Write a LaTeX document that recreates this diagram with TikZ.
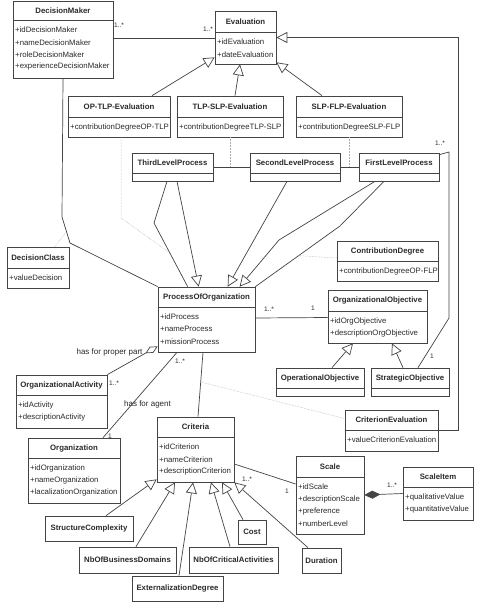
\documentclass[tikz,border=0pt]{standalone}
\usepackage{fontspec}
\setmainfont{Liberation Sans}
\usetikzlibrary{arrows.meta}
\definecolor{lc}{HTML}{444444}
\definecolor{tc}{HTML}{2A2A2A}
\tikzset{
  clsbox/.style={draw=lc, line width=0.7pt, inner sep=0pt, fill=white},
  boxline/.style={draw=lc, line width=0.7pt},
  ttl/.style={inner sep=0pt, text=tc, font=\bfseries\fontsize{7.8}{9}\selectfont},
  attr/.style={inner sep=0pt, anchor=west, text=tc, font=\fontsize{7.8}{9}\selectfont},
  assoc/.style={draw=lc, line width=0.7pt},
  gen/.style={assoc, -{Triangle[open,length=11pt,width=11pt,fill=white]}},
  agg/.style={assoc, -{Diamond[open,length=14pt,width=7pt,fill=white]}},
  comp/.style={assoc, {Diamond[length=16pt,width=8pt]}-},
  dots/.style={draw=gray!65, line width=0.5pt, densely dotted},
  mult/.style={inner sep=0pt, text=tc, font=\fontsize{6.6}{7}\selectfont},
  lbl/.style={inner sep=0pt, text=tc, font=\fontsize{8}{9}\selectfont}
}
% name, x1, y1, x2, y2, separator y, title, attributes
\newcommand\umlcls[8]{%
  \node[clsbox, minimum width={(#4-#2)*1pt}, minimum height={(#5-#3)*1pt}] (#1) at ({(#2+#4)/2},{(#3+#5)/2}) {};
  \draw[boxline] (#2,#6) -- (#4,#6);
  \node[ttl] (#1-t) at ({(#2+#4)/2},{(#3+#6)/2}) {#7};
  \foreach \a [count=\i] in {#8} {\node[attr] (#1-a\i) at ({#2+2},{#6+10+(\i-1)*12.3}) {\a};}
}
% name, x1, y1, x2, y2, separator y, title
\newcommand\umlhead[7]{%
  \node[clsbox, minimum width={(#4-#2)*1pt}, minimum height={(#5-#3)*1pt}] (#1) at ({(#2+#4)/2},{(#3+#5)/2}) {};
  \draw[boxline] (#2,#6) -- (#4,#6);
  \node[ttl] (#1-t) at ({(#2+#4)/2},{(#3+#6)/2}) {#7};
}
% name, x1, y1, x2, y2, title
\newcommand\umlsimple[6]{%
  \node[clsbox, minimum width={(#4-#2)*1pt}, minimum height={(#5-#3)*1pt}] (#1) at ({(#2+#4)/2},{(#3+#5)/2}) {};
  \node[ttl] (#1-t) at ({(#2+#4)/2},{(#3+#5)/2}) {#6};
}
\begin{document}
\begin{tikzpicture}[x=1pt,y=-1pt]
\useasboundingbox (0,0) rectangle (484,610);
\fill[white] (0,0) rectangle (484,610);

% ---------- classes ----------
\umlcls{dm}{13}{1}{113}{78}{20}{DecisionMaker}{+idDecisionMaker,+nameDecisionMaker,+roleDecisionMaker,+experienceDecisionMaker}
\umlcls{ev}{215}{11}{276}{64}{32}{Evaluation}{+idEvaluation,+dateEvaluation}
\umlcls{optlp}{68}{96}{170}{137}{117}{OP-TLP-Evaluation}{+contributionDegreeOP-TLP}
\umlcls{tlpslp}{177}{96}{283}{137}{117}{TLP-SLP-Evaluation}{+contributionDegreeTLP-SLP}
\umlcls{slpflp}{296}{96}{402}{137}{117}{SLP-FLP-Evaluation}{+contributionDegreeSLP-FLP}
\umlhead{third}{132}{153}{213}{181}{173}{ThirdLevelProcess}
\umlhead{second}{250}{153}{340}{181}{173}{SecondLevelProcess}
\umlhead{first}{359}{153}{439}{181}{173}{FirstLevelProcess}
\umlcls{dc}{7}{247}{69}{288}{268}{DecisionClass}{+valueDecision}
\umlcls{cd}{337}{241}{438}{281}{261}{ContributionDegree}{+contributionDegreeOP-FLP}
\umlcls{poo}{158}{287}{255}{352}{307}{ProcessOfOrganization}{+idProcess,+nameProcess,+missionProcess}
\umlcls{oo}{328}{290}{427}{343}{311}{OrganizationalObjective}{+idOrgObjective,+descriptionOrgObjective}
\umlhead{op}{276}{368}{364}{396}{388}{OperationalObjective}
\umlhead{so}{371}{368}{449}{396}{388}{StrategicObjective}
\umlcls{oa}{16}{375}{107}{428}{395}{OrganizationalActivity}{+idActivity,+descriptionActivity}
\umlcls{ce}{345}{410}{438}{451}{430}{CriterionEvaluation}{+valueCriterionEvaluation}
\umlcls{org}{28}{438}{120}{503}{458}{Organization}{+idOrganization,+nameOrganization,+lacalizationOrganization}
\umlcls{crit}{157}{417}{234}{482}{437}{Criteria}{+idCriterion,+nameCriterion,+descriptionCriterion}
\umlcls{scale}{296}{456}{364}{534}{477}{Scale}{+idScale,+descriptionScale,+preference,+numberLevel}
\umlcls{si}{403}{467}{473}{520}{487}{ScaleItem}{+qualitativeValue,+quantitativeValue}
\umlsimple{sc}{45}{516}{133}{541}{StructureComplexity}
\umlsimple{nbd}{79}{547}{176}{573}{NbOfBusinessDomains}
\umlsimple{ext}{132}{576}{223}{601}{ExternalizationDegree}
\umlsimple{nbc}{189}{547}{278}{573}{NbOfCriticalActivities}
\umlsimple{cost}{238}{520}{266}{544}{Cost}
\umlsimple{dur}{302}{548}{341}{573}{Duration}

% ---------- association points for association classes ----------
\coordinate (dmp) at (66,232);
\coordinate (tpa) at (170,253);
\coordinate (fpa) at (298,255.6);
\coordinate (pca) at (200.7,382);

% ---------- connectors ----------
\draw[assoc] ([yshift=1.5pt]dm.east) -- ([yshift=-0.5pt]ev.west);
\draw[assoc] (dm.south) -- (62,217) -- (70,243) -- (poo.north west);
\draw[dots] ([xshift=17pt]dc.north) -- (dmp);

\draw[gen] ([xshift=33pt]optlp.north) -- ([yshift=7pt]ev.south west);
\draw[gen] ([xshift=5pt]tlpslp.north) -- ([xshift=-5.5pt]ev.south);
\draw[gen] ([xshift=-27pt]slpflp.north) -- ([yshift=2pt]ev.south east);

\draw[assoc] (third.east) -- (second.west);
\draw[assoc] (second.east) -- (first.west);
\draw[dots] (tlpslp.south) -- (tlpslp.south |- third.east);
\draw[dots] (slpflp.south) -- (slpflp.south |- second.east);
\draw[dots] ([xshift=2pt]optlp.south) -- (121,218) -- (tpa);

\draw[assoc] ([xshift=-5.5pt]third.south) -- (154,223) -- ([xshift=30pt]poo.north west);
\draw[gen] ([xshift=4.5pt]third.south) -- ([xshift=41pt]poo.north west);
\draw[gen] ([xshift=-8pt]second.south) -- ([xshift=70pt]poo.north west);
\draw[gen] ([xshift=-24pt]first.south) -- (279,240) -- ([xshift=82pt]poo.north west);
\draw[assoc] ([xshift=-15pt]first.south) -- (340,226) -- (poo.north east);
\draw[dots] ([yshift=3pt]cd.west) -- (fpa);

\draw[assoc] ([yshift=-2pt]first.north east) -- (449,152) -- (449,318) -- ([xshift=8pt]so.north);
\draw[gen] (ce.east) -- ++(20,0) |- (ev.east);

\draw[assoc] ([yshift=1.5pt]poo.east) -- ([yshift=-1pt]oo.west);
\draw[gen] ([xshift=12pt]op.north) -- ([xshift=-24.5pt]oo.south);
\draw[gen] ([xshift=-7pt]so.north) -- ([xshift=14.5pt]oo.south);

\draw[agg] (oa.north east) -- ([yshift=6pt]poo.south west);
\draw[assoc] ([xshift=-29.5pt]poo.south) -- ([xshift=29pt]org.north);
\draw[assoc] ([xshift=-3.5pt]poo.south) -- ([xshift=2.5pt]crit.north);
\draw[dots] (pca) -- ([yshift=12pt]ce.west);

\draw[assoc] ([yshift=-14.5pt]crit.east) -- ([yshift=11pt]scale.west);
\draw[comp] (scale.east) -- (si.west);

\draw[gen] ([xshift=17pt]sc.north) -- ([yshift=3pt]crit.south west);
\draw[gen] ([xshift=8.5pt]nbd.north) -- ([xshift=-20.5pt]crit.south);
\draw[gen] ([xshift=1.5pt]ext.north) -- ([xshift=-2.5pt]crit.south);
\draw[gen] ([xshift=-3.5pt]nbc.north) -- ([xshift=15.5pt]crit.south);
\draw[gen] ([xshift=-9pt]cost.north) -- ([xshift=26.5pt]crit.south);
\draw[gen] ([xshift=-13.5pt]dur.north) -- (crit.south east);

% ---------- labels ----------
\node[mult] (l1) at (119,25) {1..*};
\node[mult] (l2) at (208,29) {1..*};
\node[mult] (l3) at (440,143) {1..*};
\node[mult] (l4) at (432,356) {1};
\node[mult] (l5) at (269,309) {1..*};
\node[mult] (l6) at (313,308) {1};
\node[lbl] (l7) at (109.5,352) {has for proper part};
\node[mult] (l8) at (114,383) {1..*};
\node[mult] (l9) at (180,361) {1..*};
\node[lbl] (l10) at (147.5,404) {has for agent};
\node[mult] (l11) at (110,436) {1};
\node[mult] (l12) at (247,479) {1..*};
\node[mult] (l13) at (287,491) {1};
\node[mult] (l14) at (392,485) {1..*};
\end{tikzpicture}
\end{document}
